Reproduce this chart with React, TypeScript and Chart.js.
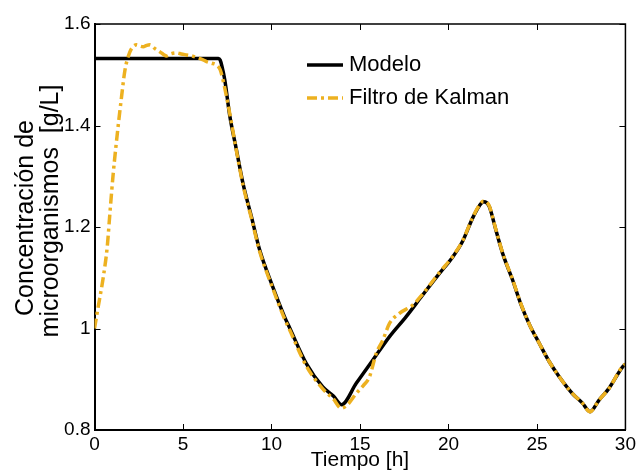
import React, { useEffect, useRef } from "react";
import { Chart, registerables } from "chart.js";

Chart.register(...registerables);

const FONT = "'Liberation Sans', Arial, sans-serif";

const xTicks = [0, 5, 10, 15, 20, 25, 30];
const yTicks = [0.8, 1.0, 1.2, 1.4, 1.6];

const legendLabels = ["Modelo", "Filtro de Kalman"];
const xTitle = "Tiempo [h]";
const yTitleLines = ["Concentración de", "microorganismos  [g/L]"];

// Modelo (black solid)
const modelT = [
  0, 7.0, 7.1, 7.2, 7.36, 7.64, 8.02, 8.39, 8.87, 9.33, 10.0, 10.74, 11.03, 11.97,
  12.9, 13.5, 13.96, 14.79, 15.73, 16.67, 17.6, 18.5, 19.48, 20.24, 20.8, 21.37,
  21.75, 21.98, 22.15, 22.31, 22.68, 23.06, 23.62, 24.1, 24.6, 25.13, 25.69,
  26.26, 27.0, 27.57, 28.0, 28.51, 29.07, 29.83, 30,
];
const modelC = [
  1.532, 1.532, 1.529, 1.517, 1.49, 1.42, 1.352, 1.286, 1.22, 1.155, 1.089, 1.023,
  1.001, 0.931, 0.885, 0.867, 0.85, 0.892, 0.938, 0.984, 1.023, 1.064, 1.108, 1.141,
  1.172, 1.218, 1.242, 1.25, 1.248, 1.24, 1.194, 1.148, 1.096, 1.047, 1.006, 0.971,
  0.935, 0.905, 0.872, 0.853, 0.836, 0.859, 0.882, 0.924, 0.93,
];

// Filtro de Kalman (yellow dash-dot)
const kalmanT = [
  0, 0.21, 0.5, 0.72, 0.87, 1.06, 1.34, 1.53, 1.72, 2.0, 2.2, 2.38, 2.6, 2.75,
  2.95, 3.13, 3.4, 3.7, 3.9, 4.07, 4.3, 4.64, 4.9, 5.2, 5.5, 5.77, 6.1, 6.33, 6.6,
  6.9, 7.1, 7.26, 7.64, 8.02, 8.39, 8.87, 9.33, 10.0, 10.74, 11.03, 11.97, 12.9,
  13.5, 13.94, 14.3, 14.79, 15.2, 15.54, 15.92, 16.29, 16.67, 17.23, 17.98, 18.5,
  19.48, 20.24, 20.8, 21.37, 21.75, 21.98, 22.15, 22.31, 22.68, 23.06, 23.62,
  24.1, 24.6, 25.13, 25.69, 26.26, 27.0, 27.57, 28.0, 28.51, 29.07, 29.83, 30,
];
const kalmanC = [
  1.0, 1.043, 1.102, 1.161, 1.227, 1.306, 1.4, 1.457, 1.509, 1.545, 1.556, 1.559,
  1.556, 1.555, 1.558, 1.559, 1.552, 1.545, 1.54, 1.537, 1.541, 1.543, 1.541,
  1.539, 1.537, 1.534, 1.53, 1.526, 1.523, 1.519, 1.51, 1.49, 1.424, 1.35, 1.283,
  1.217, 1.152, 1.086, 1.019, 0.997, 0.926, 0.881, 0.861, 0.843, 0.85, 0.872,
  0.888, 0.905, 0.951, 0.977, 1.01, 1.03, 1.046, 1.066, 1.11, 1.142, 1.173, 1.219,
  1.243, 1.251, 1.249, 1.241, 1.195, 1.149, 1.097, 1.048, 1.006, 0.971, 0.935,
  0.905, 0.872, 0.853, 0.836, 0.859, 0.882, 0.925, 0.93,
];

const modelData = modelT.map((t, i) => ({ x: t, y: modelC[i] }));
const kalmanData = kalmanT.map((t, i) => ({ x: t, y: kalmanC[i] }));

const KALMAN_COLOR = "#EDB120";
const KALMAN_DASH = [10, 4, 3, 4];

const framePlugin = {
  id: "frame",
  afterDraw(chart: any) {
    const { ctx, chartArea: a, scales } = chart;
    ctx.save();
    ctx.strokeStyle = "#000";
    ctx.lineWidth = 1.5;
    ctx.beginPath();
    ctx.moveTo(a.left, a.top);
    ctx.lineTo(a.right, a.top);
    ctx.lineTo(a.right, a.bottom);
    ctx.stroke();
    ctx.lineWidth = 1;
    ctx.beginPath();
    for (const v of xTicks) {
      const px = Math.round(scales.x.getPixelForValue(v)) + 0.5;
      ctx.moveTo(px, a.bottom);
      ctx.lineTo(px, a.bottom - 6);
      ctx.moveTo(px, a.top);
      ctx.lineTo(px, a.top + 6);
    }
    for (const v of yTicks) {
      const py = Math.round(scales.y.getPixelForValue(v)) + 0.5;
      ctx.moveTo(a.left, py);
      ctx.lineTo(a.left + 6, py);
      ctx.moveTo(a.right, py);
      ctx.lineTo(a.right - 6, py);
    }
    ctx.stroke();
    ctx.restore();
  },
};

const legendPlugin = {
  id: "insideLegend",
  afterDraw(chart: any) {
    const { ctx, chartArea: a } = chart;
    const x0 = a.left + 212.5;
    const x1 = a.left + 248.5;
    const tx = a.left + 254.5;
    const rows = [a.top + 41, a.top + 74];
    ctx.save();
    ctx.font = `22px ${FONT}`;
    ctx.textBaseline = "middle";
    ctx.textAlign = "left";
    ctx.fillStyle = "#000";
    chart.data.datasets.forEach((ds: any, i: number) => {
      const y = rows[i];
      ctx.beginPath();
      ctx.setLineDash(ds.borderDash || []);
      ctx.lineWidth = ds.borderWidth;
      ctx.strokeStyle = ds.borderColor;
      ctx.moveTo(x0, y);
      ctx.lineTo(x1, y);
      ctx.stroke();
      ctx.setLineDash([]);
      ctx.fillText(legendLabels[i], tx, y);
    });
    ctx.restore();
  },
};

const yTitlePlugin = {
  id: "yTitle",
  afterDraw(chart: any) {
    const { ctx, chartArea: a } = chart;
    const cy = (a.top + a.bottom) / 2;
    const pos = [
      { x: 33, y: cy - 9 },
      { x: 58, y: cy - 16 },
    ];
    ctx.save();
    ctx.font = `25px ${FONT}`;
    ctx.fillStyle = "#000";
    ctx.textAlign = "center";
    ctx.textBaseline = "alphabetic";
    yTitleLines.forEach((line, i) => {
      ctx.save();
      ctx.translate(pos[i].x, pos[i].y);
      ctx.rotate(-Math.PI / 2);
      ctx.fillText(line, 0, 0);
      ctx.restore();
    });
    ctx.restore();
  },
};

export default function App() {
  const canvasRef = useRef<HTMLCanvasElement | null>(null);

  useEffect(() => {
    if (!canvasRef.current) return;
    const chart = new Chart(canvasRef.current, {
      type: "line",
      data: {
        datasets: [
          {
            label: legendLabels[0],
            data: modelData,
            borderColor: "#000000",
            backgroundColor: "#000000",
            borderWidth: 3.5,
            pointRadius: 0,
            cubicInterpolationMode: "monotone",
            order: 1,
          },
          {
            label: legendLabels[1],
            data: kalmanData,
            borderColor: KALMAN_COLOR,
            backgroundColor: KALMAN_COLOR,
            borderWidth: 3.5,
            borderDash: KALMAN_DASH,
            pointRadius: 0,
            cubicInterpolationMode: "monotone",
            order: 0,
          },
        ],
      },
      options: {
        animation: false,
        responsive: false,
        maintainAspectRatio: false,
        layout: { padding: { left: 0, top: 24, right: 12, bottom: 0 } },
        plugins: {
          legend: { display: false },
          tooltip: { enabled: false },
        },
        scales: {
          x: {
            type: "linear",
            min: 0,
            max: 30,
            afterBuildTicks: (scale: any) => {
              scale.ticks = xTicks.map((v) => ({ value: v }));
            },
            afterFit: (scale: any) => {
              scale.height = 45;
            },
            grid: { display: false, drawTicks: false },
            border: { display: true, color: "#000", width: 2 },
            ticks: {
              color: "#000",
              padding: 3,
              maxRotation: 0,
              autoSkip: false,
              font: { family: FONT, size: 19 },
              callback: (v: any) => String(v),
            },
            title: {
              display: true,
              text: xTitle,
              color: "#000",
              font: { family: FONT, size: 21 },
              padding: { top: 0, bottom: 2 },
            },
          },
          y: {
            type: "linear",
            min: 0.8,
            max: 1.6,
            afterBuildTicks: (scale: any) => {
              scale.ticks = yTicks.map((v) => ({ value: v }));
            },
            afterFit: (scale: any) => {
              scale.width = 94.5;
            },
            grid: { display: false, drawTicks: false },
            border: { display: true, color: "#000", width: 2 },
            ticks: {
              color: "#000",
              padding: 4,
              autoSkip: false,
              font: { family: FONT, size: 19 },
              callback: (v: any) => String(Number(Number(v).toFixed(1))),
            },
          },
        },
      },
      plugins: [framePlugin, legendPlugin, yTitlePlugin],
    });
    return () => chart.destroy();
  }, []);

  return (
    <div style={{ position: "absolute", left: 0, top: 0, width: 639, height: 475, background: "#fff" }}>
      <canvas ref={canvasRef} width={639} height={475} style={{ display: "block" }} />
    </div>
  );
}
